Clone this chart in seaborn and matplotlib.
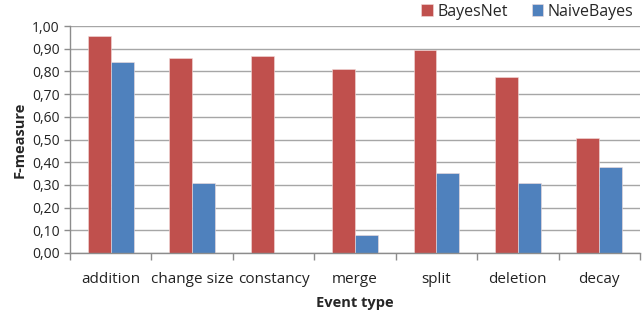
"""
F-measure by event type for BayesNet and NaiveBayes
"""

import matplotlib.pyplot as plt
import numpy as np
import pandas as pd
import seaborn as sns
from matplotlib.ticker import FixedLocator, FuncFormatter

EVENT_TYPES = ['addition', 'change size', 'constancy', 'merge',
               'split', 'deletion', 'decay']
BAYES_NET = [0.957, 0.860, 0.869, 0.809, 0.894, 0.774, 0.507]
NAIVE_BAYES = [0.841, 0.307, 0.0, 0.081, 0.354, 0.310, 0.378]
MODELS = ['BayesNet', 'NaiveBayes']
COLORS = ['#C0504D', '#4F81BD']

# Long format table for seaborn
df = pd.DataFrame({
    'Event type': EVENT_TYPES * 2,
    'F-measure': BAYES_NET + NAIVE_BAYES,
    'Model': [MODELS[0]] * len(EVENT_TYPES) + [MODELS[1]] * len(EVENT_TYPES),
})

sns.set_style('white')
plt.rcParams['font.family'] = ['Open Sans', 'DejaVu Sans']

fig = plt.figure(figsize=(6.42, 3.14), dpi=100)
ax = fig.add_axes([70 / 642, 61 / 314, 570 / 642, 227 / 314])

sns.barplot(data=df, x='Event type', y='F-measure', hue='Model',
            palette=COLORS, saturation=1, width=0.56, gap=0, ax=ax,
            edgecolor='#f2dcdb', linewidth=0.4, legend=True)

# Axis range and grid
ax.set_xlim(-0.5, len(EVENT_TYPES) - 0.5)
ax.set_ylim(0, 1.0)
ax.set_yticks(np.arange(0, 1.01, 0.1))
ax.yaxis.set_major_formatter(FuncFormatter(lambda v, _: f'{v:.2f}'.replace('.', ',')))
ax.yaxis.grid(True, color='#a6a6a6', linewidth=1)
ax.set_axisbelow(True)

# Tick marks between categories like the spreadsheet chart
ax.xaxis.set_minor_locator(FixedLocator(np.arange(-0.5, len(EVENT_TYPES), 1)))
ax.tick_params(axis='x', which='major', length=0, pad=14, labelsize=11,
               colors='#222222')
ax.tick_params(axis='x', which='minor', length=5, width=1, color='#8c8c8c',
               direction='out', bottom=True)
ax.tick_params(axis='y', length=4, width=1, color='#8c8c8c', direction='out',
               left=True, labelsize=10, colors='#222222')

for side in ['top', 'right']:
    ax.spines[side].set_visible(False)
for side in ['left', 'bottom']:
    ax.spines[side].set_color('#8c8c8c')
    ax.spines[side].set_linewidth(1)

ax.set_xlabel('Event type', fontweight='bold', fontsize=10.5, labelpad=6)
ax.set_ylabel('F-measure', fontweight='bold', fontsize=10.5, labelpad=4)

ax.legend(title=None, loc='lower right', bbox_to_anchor=(1.0, 1.0),
          ncol=2, frameon=False, fontsize=11.5, handlelength=0.7,
          handleheight=0.7, handletextpad=0.3, columnspacing=1.5,
          borderaxespad=0)

fig.savefig('out.png', dpi=100)
